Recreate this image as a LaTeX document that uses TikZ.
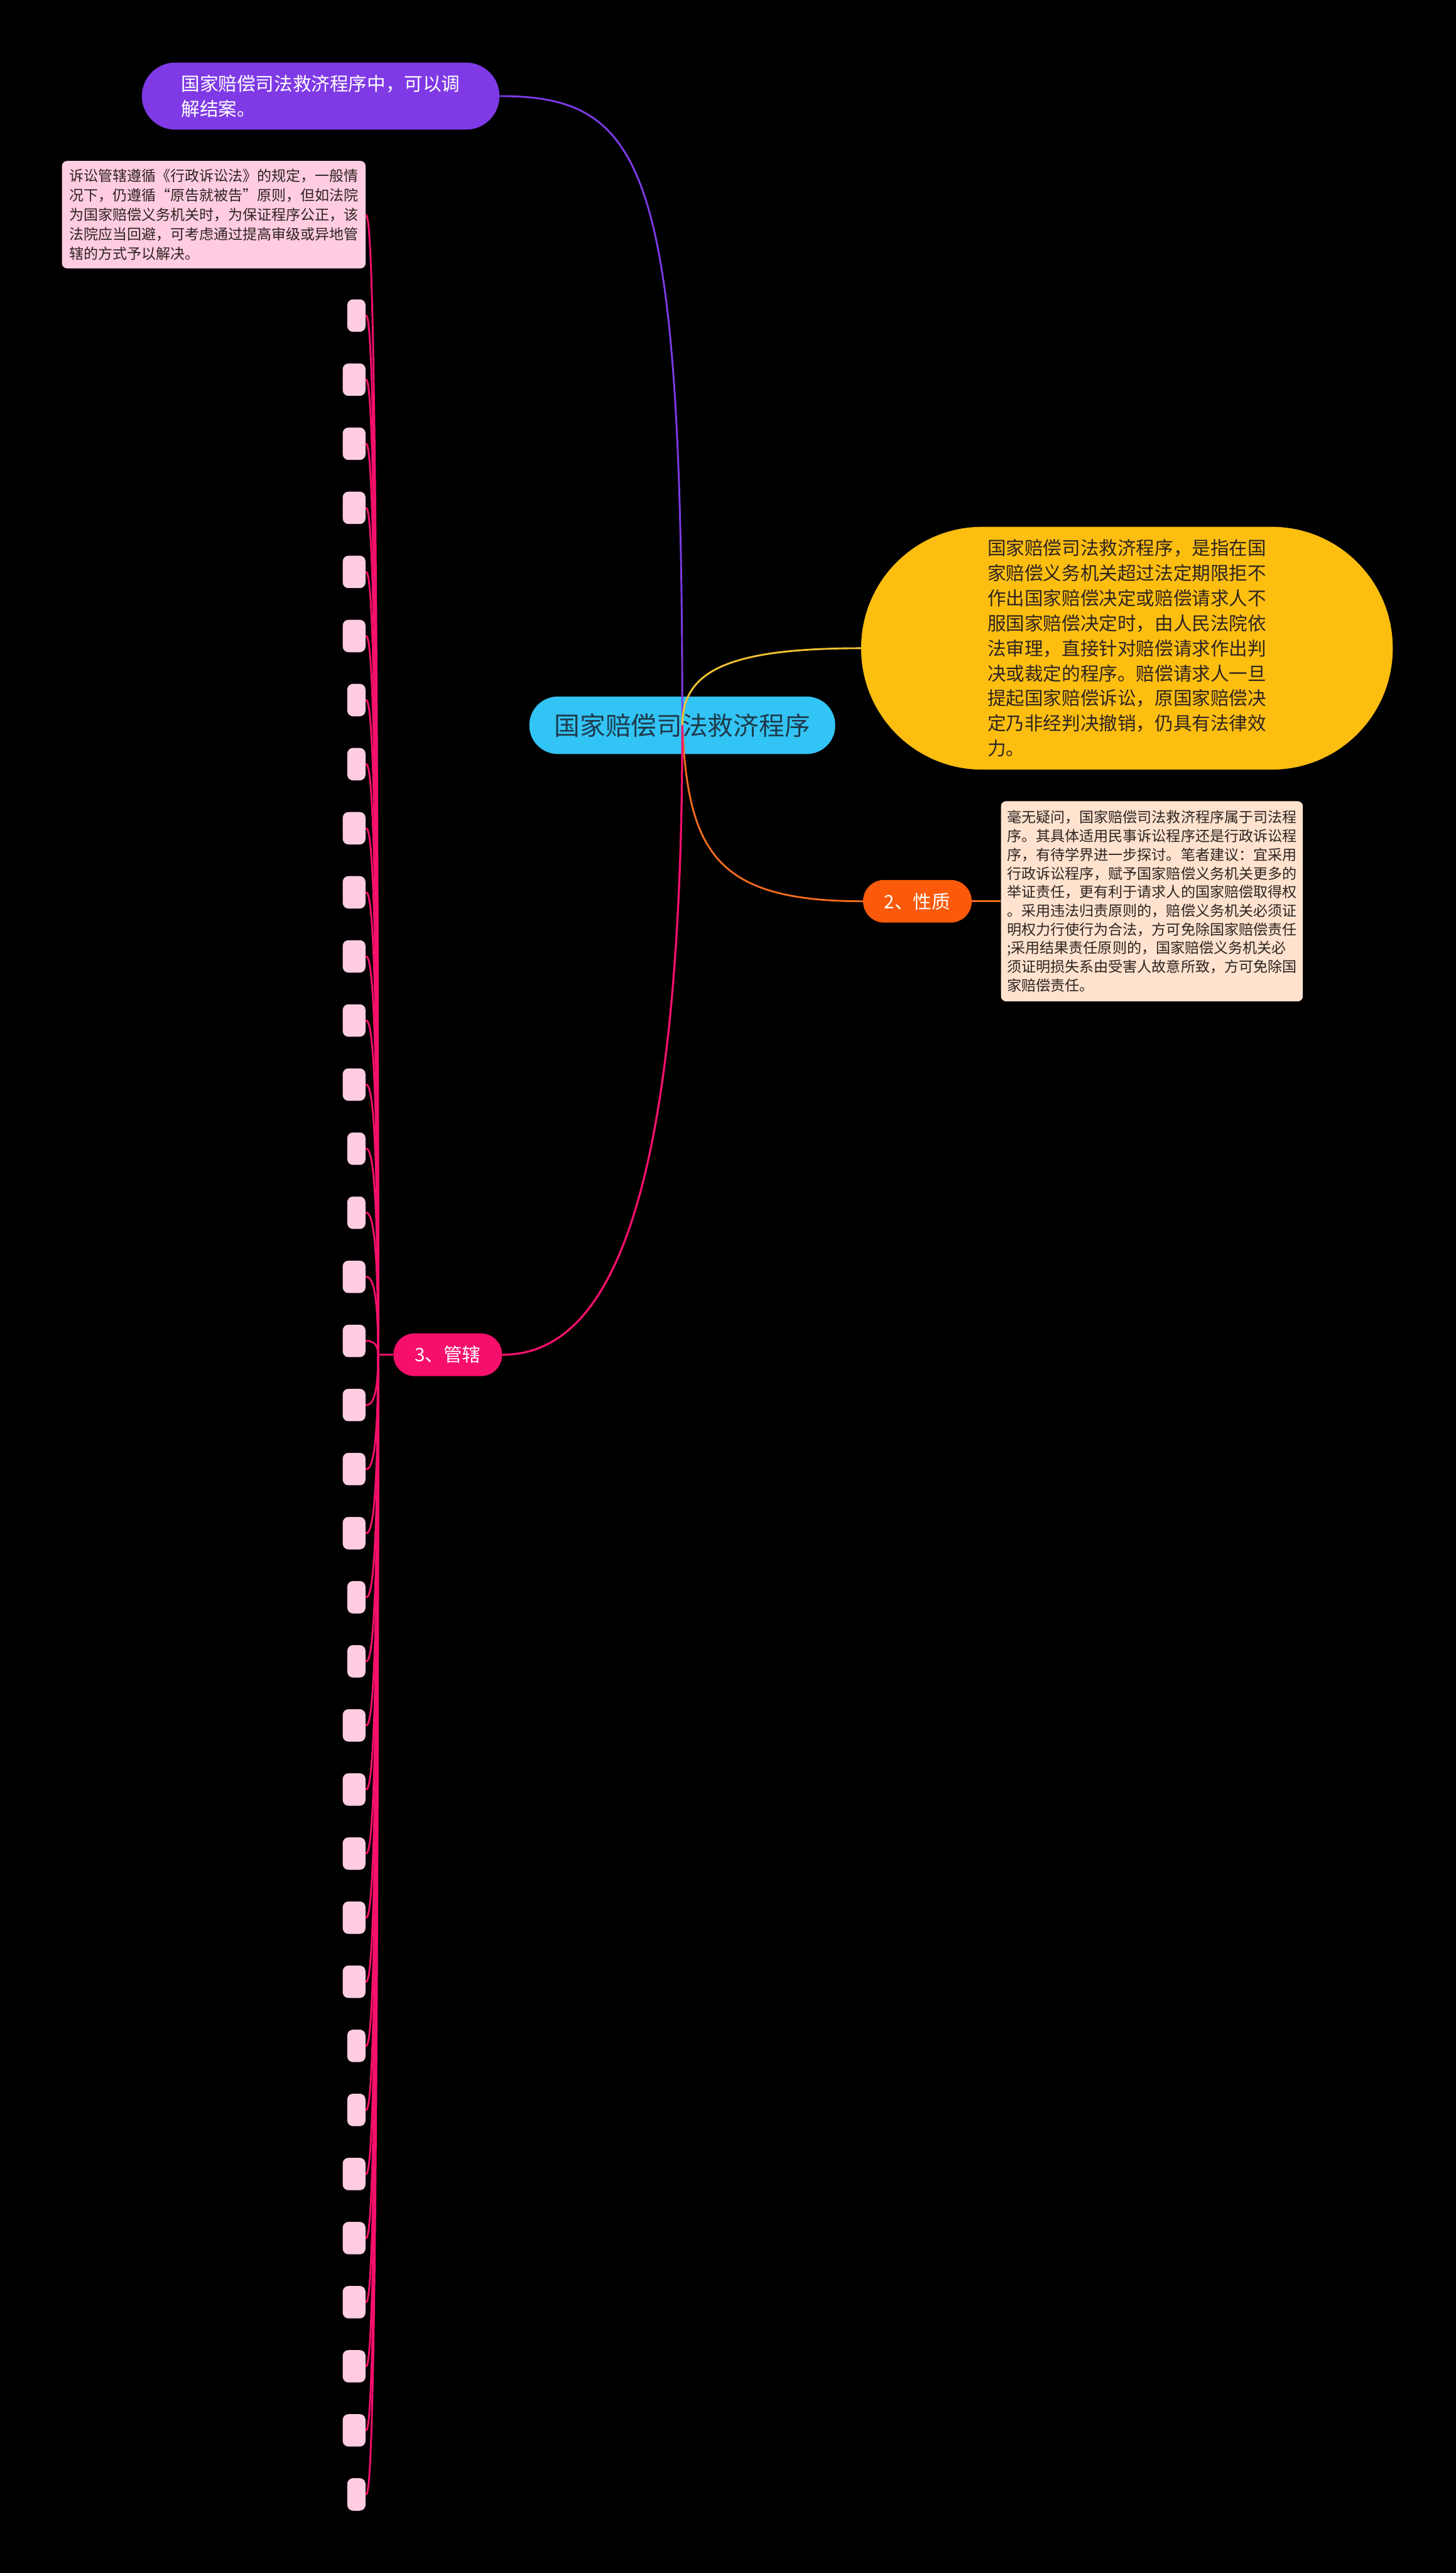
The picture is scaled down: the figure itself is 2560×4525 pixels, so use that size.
\documentclass[tikz,border=0pt]{standalone}
\usepackage{fontspec}
\setmainfont{Noto Sans CJK SC}
\usepackage{tikz}
\usetikzlibrary{positioning}
\definecolor{mmcyan}{HTML}{32C4F4}
\definecolor{mmroottext}{HTML}{1F3B4D}
\definecolor{mmpurple}{HTML}{7F3AE6}
\definecolor{mmyellow}{HTML}{FDBE10}
\definecolor{mmyellowline}{HTML}{F2C230}
\definecolor{mmorange}{HTML}{FA5A0A}
\definecolor{mmorangeline}{HTML}{F26B1D}
\definecolor{mmpink}{HTML}{F70F6C}
\definecolor{mmblush}{HTML}{FFCCE2}
\definecolor{mmpeach}{HTML}{FFE3CF}
\definecolor{mmdark}{HTML}{2E2420}

\begin{document}
\begin{tikzpicture}[x=1pt, y=-1pt,
  rootnode/.style = {rectangle, fill=mmcyan, text=mmroottext, minimum width=538pt, minimum height=101pt, rounded corners=50pt, font=\fontsize{45}{54}\selectfont},
  pill/.style = {rectangle, text=white, minimum width=191pt, minimum height=75pt, rounded corners=37pt, font=\fontsize{32.7}{40}\selectfont},
  notebox/.style = {rectangle, text=mmdark, align=left, rounded corners=9pt, inner sep=10pt, font=\fontsize{25.4}{33}\selectfont},
  leafbox/.style = {rectangle, fill=mmblush, minimum height=57pt, rounded corners=10pt, inner sep=0pt},
  branch/.style = {line width=3.2pt}]
        \useasboundingbox (0,0) rectangle (2560,4525);
        \fill[black] (-20,-20) rectangle (2580,4545);

        % nodes
        \node[rootnode] (root) at (1200,1275.5) {国家赔偿司法救济程序};

        \node[rectangle, fill=mmpurple, text=white, align=left, minimum width=629pt, minimum height=118pt, rounded corners=59pt, font=\fontsize{32.7}{44}\selectfont] (mediate) at (564,169) {国家赔偿司法救济程序中，可以调\\解结案。};

        \node[rectangle, fill=mmyellow, text=mmdark, align=left, minimum width=935pt, minimum height=427pt, rounded corners=213pt, font=\fontsize{32.7}{44}\selectfont] (define) at (1982,1140) {国家赔偿司法救济程序，是指在国\\家赔偿义务机关超过法定期限拒不\\作出国家赔偿决定或赔偿请求人不\\服国家赔偿决定时，由人民法院依\\法审理，直接针对赔偿请求作出判\\决或裁定的程序。赔偿请求人一旦\\提起国家赔偿诉讼，原国家赔偿决\\定乃非经判决撤销，仍具有法律效\\力。};

        \node[pill, fill=mmorange] (nature) at (1613.5,1585) {2、性质};
        \node[notebox, fill=mmpeach, minimum width=531pt, minimum height=352pt, font=\fontsize{25.5}{32.8}\selectfont, right=51pt of nature] (naturetext) {毫无疑问，国家赔偿司法救济程序属于司法程\\序。其具体适用民事诉讼程序还是行政诉讼程\\序，有待学界进一步探讨。笔者建议：宜采用\\行政诉讼程序，赋予国家赔偿义务机关更多的\\举证责任，更有利于请求人的国家赔偿取得权\\。采用违法归责原则的，赔偿义务机关必须证\\明权力行使行为合法，方可免除国家赔偿责任\\;采用结果责任原则的，国家赔偿义务机关必\\须证明损失系由受害人故意所致，方可免除国\\家赔偿责任。};

        \node[pill, fill=mmpink] (juris) at (787.5,2382.5) {3、管辖};
        \coordinate (hub) at (665,2382.5);

        \node[notebox, fill=mmblush, minimum width=534pt, minimum height=189pt, font=\fontsize{25.4}{34.3}\selectfont] (rule) at (376,377.5) {诉讼管辖遵循《行政诉讼法》的规定，一般情\\况下，仍遵循“原告就被告”原则，但如法院\\为国家赔偿义务机关时，为保证程序公正，该\\法院应当回避，可考虑通过提高审级或异地管\\辖的方式予以解决。};

        % connections
        \draw[branch, mmpurple] (root.center) .. controls (1200,300) and (1140,169) .. (mediate.east);
        \draw[branch, mmyellowline] (root.center) .. controls (1200,1180) and (1280,1140) .. (define.west);
        \draw[branch, mmorangeline] (root.center) .. controls (1210,1500) and (1260,1585) .. (nature.west);
        \draw[branch, mmorangeline] (nature.east) -- (naturetext.west);
        \draw[line width=3.6pt, mmpink] (root.center) .. controls (1200,2150) and (1060,2382.5) .. (juris.east);
        \draw[branch, mmpink] (juris.west) -- (hub);
        \draw[branch, mmpink] (hub) .. controls (665,385) and (650,385) .. (rule.east);

        % empty leaves under 3
        \foreach \i in {0,...,34}{
          \pgfmathsetmacro\ypos{555+112.7*\i}
          \pgfmathtruncatemacro\r{mod(\i,7)}
          \ifnum\r=0 \def\bw{32}\else\ifnum\r=6 \def\bw{32}\else\def\bw{40}\fi\fi
          \node[leafbox, minimum width=\bw pt, anchor=east] (leaf\i) at (643,\ypos) {};
          \draw[branch, mmpink] (hub) .. controls (665,\ypos) and (650,\ypos) .. (leaf\i.east);
        }
      \end{tikzpicture}
\end{document}
